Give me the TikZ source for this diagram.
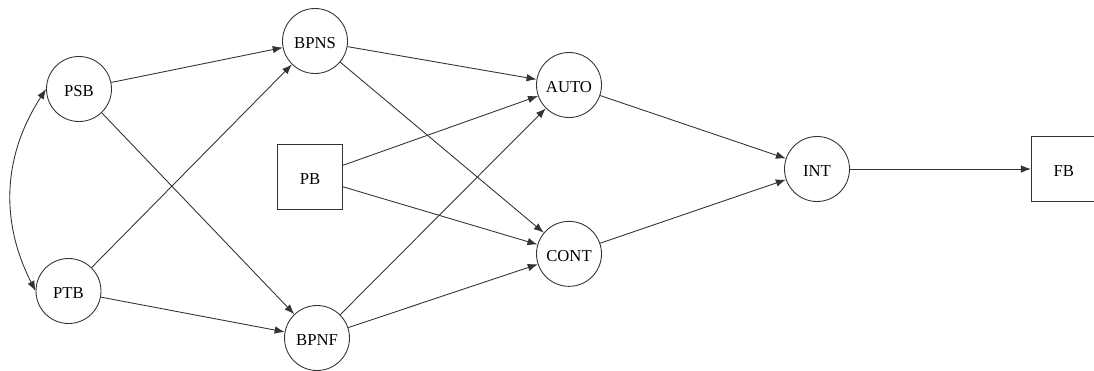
\documentclass[tikz,border=0pt]{standalone}
\usepackage{fontspec}
\setmainfont{Liberation Serif}
\usetikzlibrary{arrows.meta, positioning}

\begin{document}
\begin{tikzpicture}[
    x=0.02cm, y=-0.02cm,
    varcirc/.style={draw, circle, minimum size=1.3cm, inner sep=0pt,
                    text centered, draw=black!80, line width=0.5pt,
                    text height=8.4pt, text depth=0pt,
                    font=\fontsize{9.5}{11}\selectfont},
    varbox/.style={draw, rectangle, minimum size=1.3cm, inner sep=0pt,
                   text centered, draw=black!80, line width=0.5pt,
                   text height=8.4pt, text depth=0pt,
                   font=\fontsize{9.5}{11}\selectfont},
    arw/.style={->, >={Latex[length=2mm, width=1.5mm]},
                line width=0.5pt, color=black!80}
  ]
    \useasboundingbox (0,0) rectangle (1094,370);

    % Nós
    \node[varcirc]                      (psb)  at (79,89)   {PSB};
    \node[varcirc]                      (ptb)  at (68.5,291) {PTB};
    \node[varcirc]                      (bpns) at (315,41)  {BPNS};
    \node[varcirc]                      (bpnf) at (317,338) {BPNF};
    \node[varbox]                       (pb)   at (310,177) {PB};
    \node[varcirc]                      (auto) at (569,85)  {AUTO};
    \node[varcirc, below=2.06cm of auto] (cont) {CONT};
    \node[varcirc]                      (int)  at (817,169) {INT};
    \node[varbox, right=3.62cm of int]  (fb)   {FB};

    % Setas
    \draw[arw, <->] (psb.west) to[bend right=30] (ptb.west);
    \draw[arw] (psb)  -- (bpns);
    \draw[arw] (psb)  -- (bpnf);
    \draw[arw] (ptb)  -- (bpns);
    \draw[arw] (ptb)  -- (bpnf);
    \draw[arw] (bpns) -- (auto);
    \draw[arw] (bpns) -- (cont);
    \draw[arw] (pb)   -- (auto);
    \draw[arw] (pb)   -- (cont);
    \draw[arw] (bpnf) -- (auto);
    \draw[arw] (bpnf) -- (cont);
    \draw[arw] (auto) -- (int);
    \draw[arw] (cont) -- (int);
    \draw[arw] (int)  -- (fb);
  \end{tikzpicture}
\end{document}
